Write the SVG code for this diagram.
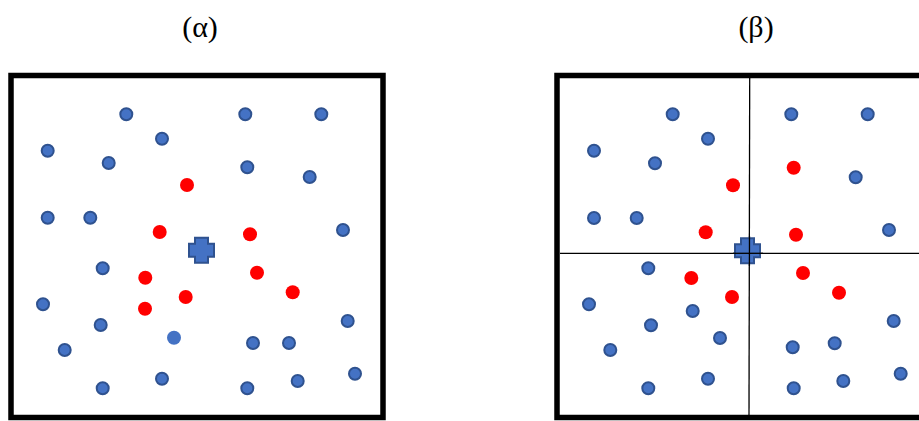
<svg xmlns="http://www.w3.org/2000/svg" width="919" height="421" viewBox="0 0 919 421">
<style>
.t{font-family:"Liberation Serif","Times New Roman",serif;font-size:30px;fill:#000;text-anchor:middle}
.frame{fill:#fff;stroke:#000;stroke-width:5.5}
.b{fill:#4472C4;stroke:#2F528F;stroke-width:2}
.r{fill:#FF0000}
.lb{fill:#4472C4}
.x{fill:#4472C4;stroke:#2F528F;stroke-width:2}
.div{stroke:#000;stroke-width:1.3;fill:none}
</style>
<defs>
<circle id="bd" r="6" class="b"/>
<circle id="rd" r="7" class="r"/>
<path id="cross" d="M-6.5,-12.5 H6.5 V-6.5 H12.5 V6.5 H6.5 V12.5 H-6.5 V6.5 H-12.5 V-6.5 H-6.5 Z" class="x"/>
</defs>
<rect width="919" height="421" fill="#fff"/>
<text class="t" x="200" y="37">(α)</text>
<text class="t" x="756" y="37">(β)</text>

<g id="panel-a">
<rect class="frame" x="11" y="75.5" width="372" height="342"/>
<g id="a-blue">
<use href="#bd" x="126.3" y="114.3"/>
<use href="#bd" x="245.3" y="114.3"/>
<use href="#bd" x="321.3" y="114.3"/>
<use href="#bd" x="162" y="138.7"/>
<use href="#bd" x="47.7" y="150.7"/>
<use href="#bd" x="108.7" y="163"/>
<use href="#bd" x="247.3" y="167.3"/>
<use href="#bd" x="309.7" y="177"/>
<use href="#bd" x="47.7" y="217.7"/>
<use href="#bd" x="90.3" y="217.7"/>
<use href="#bd" x="343" y="230"/>
<use href="#bd" x="102.7" y="268.3"/>
<use href="#bd" x="43" y="304.3"/>
<use href="#bd" x="100.7" y="325"/>
<use href="#bd" x="347.7" y="321"/>
<use href="#bd" x="64.7" y="350"/>
<use href="#bd" x="253" y="343"/>
<use href="#bd" x="289" y="343"/>
<use href="#bd" x="102.7" y="388.3"/>
<use href="#bd" x="162" y="378.7"/>
<use href="#bd" x="247.3" y="388.3"/>
<use href="#bd" x="297.7" y="381"/>
<use href="#bd" x="355" y="373.7"/>
<circle class="lb" cx="174" cy="337.7" r="7"/>
</g>
<g id="a-red">
<use href="#rd" x="187" y="185"/>
<use href="#rd" x="159.7" y="232"/>
<use href="#rd" x="250" y="234.3"/>
<use href="#rd" x="145.3" y="277.7"/>
<use href="#rd" x="257" y="272.7"/>
<use href="#rd" x="185.7" y="297"/>
<use href="#rd" x="292.7" y="292.3"/>
<use href="#rd" x="145" y="308.7"/>
</g>
<use id="a-query" href="#cross" x="201.5" y="250.3"/>
</g>

<g id="panel-b">
<rect class="frame" x="557" y="75.5" width="372" height="342"/>
<g id="b-dividers">
<line class="div" x1="749.7" y1="78" x2="749" y2="415"/>
<line class="div" x1="560" y1="253.3" x2="919" y2="253.3"/>
</g>
<g id="b-blue">
<use href="#bd" x="672.7" y="114.3"/>
<use href="#bd" x="791.3" y="114.3"/>
<use href="#bd" x="867.7" y="114.3"/>
<use href="#bd" x="708" y="138.7"/>
<use href="#bd" x="594" y="150.7"/>
<use href="#bd" x="655" y="163.3"/>
<use href="#bd" x="855.7" y="177.3"/>
<use href="#bd" x="594" y="218"/>
<use href="#bd" x="636.7" y="218"/>
<use href="#bd" x="889" y="230"/>
<use href="#bd" x="648.3" y="268.3"/>
<use href="#bd" x="589" y="304.3"/>
<use href="#bd" x="692.7" y="311"/>
<use href="#bd" x="651" y="325.3"/>
<use href="#bd" x="893.7" y="321"/>
<use href="#bd" x="720" y="338"/>
<use href="#bd" x="610.3" y="350"/>
<use href="#bd" x="792.7" y="347.3"/>
<use href="#bd" x="834.7" y="343.3"/>
<use href="#bd" x="648.3" y="388.3"/>
<use href="#bd" x="708" y="378.7"/>
<use href="#bd" x="793.7" y="388.3"/>
<use href="#bd" x="843.3" y="381"/>
<use href="#bd" x="900.7" y="373.7"/>
</g>
<g id="b-red">
<use href="#rd" x="733" y="185.3"/>
<use href="#rd" x="793.7" y="167.7"/>
<use href="#rd" x="705.7" y="232.3"/>
<use href="#rd" x="796" y="234.7"/>
<use href="#rd" x="691.3" y="278"/>
<use href="#rd" x="803" y="273"/>
<use href="#rd" x="732" y="297"/>
<use href="#rd" x="839" y="292.7"/>
</g>
<use id="b-query" href="#cross" x="747.5" y="250.7"/>
<g id="b-dividers-over">
<line class="div" x1="749.5" y1="236" x2="749.4" y2="266"/>
<line class="div" x1="733" y1="253.3" x2="763" y2="253.3"/>
</g>
</g>
</svg>
